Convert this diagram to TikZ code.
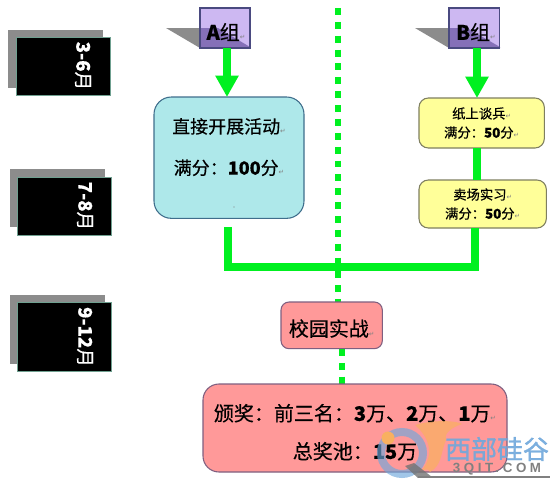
\documentclass[tikz,border=0pt]{standalone}
\usepackage{fontspec}
\setmainfont{Liberation Sans}
\newfontfamily\cjk[FakeBold=0.35]{Noto Sans CJK SC}
\newfontfamily\cjkb[FakeBold=1.2]{Noto Sans CJK SC}
\newfontfamily\sym{DejaVu Sans}
\usetikzlibrary{arrows.meta}
\definecolor{grn}{HTML}{00F020}
\definecolor{purp}{HTML}{CDB8F2}
\definecolor{purpd}{HTML}{8570B8}
\definecolor{purpb}{HTML}{4A4A80}
\definecolor{cyanf}{HTML}{AEE8EA}
\definecolor{cyanb}{HTML}{3F6E8C}
\definecolor{yelf}{HTML}{FFFF99}
\definecolor{yelb}{HTML}{7F7F60}
\definecolor{redf}{HTML}{FF9999}
\definecolor{redb}{HTML}{7F5F80}
\definecolor{shad}{HTML}{8C8C8C}
\definecolor{wmblue}{HTML}{6FA8DC}
\definecolor{wmorange}{HTML}{F8B060}
\definecolor{mborder}{HTML}{6FA090}
\newcommand{\ret}{{\sym\fontsize{5}{5}\selectfont\textcolor{gray}{↵}}}
\newcommand{\bb}[1]{{\bfseries #1}}
\tikzset{
  x=0.75pt,y=-0.75pt,
  every node/.style={inner sep=0pt,outer sep=0pt,align=center,font=\cjk},
  month/.style={fill=black,draw=mborder,line width=0.5pt,text=white,anchor=north west},
  monthtext/.style={text=white,rotate=-90,font=\cjk\fontsize{14}{14}\selectfont},
  shadowbox/.style={fill=shad},
  groupbox/.style={draw=purpb,line width=0.8pt,anchor=north west},
  greenarrow/.style={draw=grn,line width=6pt,-{Triangle[length=16pt,width=16.5pt]}},
  greenline/.style={draw=grn,line width=6pt},
  greendots/.style={draw=grn,line width=5.2pt,dash pattern=on 5.2pt off 5.2pt},
}
\begin{document}
\begin{tikzpicture}
\useasboundingbox[fill=white] (0,0) rectangle (553,483);
% month blocks
\fill[shadowbox] (8,30) rectangle (103,88);
\fill[shadowbox] (10,169) rectangle (105,227);
\fill[shadowbox] (10,295) rectangle (105,364);
\node[month,minimum width=70.5pt,minimum height=43.5pt] (m1) at (16,37) {};
\node[month,minimum width=71pt,minimum height=43.5pt] (m2) at (17,177) {};
\node[month,minimum width=71pt,minimum height=52pt] (m3) at (17,302) {};
\node[monthtext] (t1) at (83,66) {\bb{3-6}月};
\node[monthtext] (t2) at (85,206) {\bb{7-8}月};
\node[monthtext] (t3) at (85,337) {\bb{9-12}月};
% dotted centre line
\coordinate (dtop) at (338,8);
\coordinate (dbot) at (338,302);
\coordinate (dlow) at (342,349);
\coordinate (dend) at (342,384);
\draw[greendots] (dtop) -- (dbot);
\draw[greendots] (dlow) -- (dend);
% group boxes
\fill[shadowbox] (166,28) -- (250,28) -- (250,48) -- (200,48) -- cycle;
\fill[shadowbox] (415,28) -- (499,28) -- (499,48) -- (449,48) -- cycle;
\node[groupbox,fill=purp,minimum width=37.5pt,minimum height=30pt] (A) at (200,8) {};
\node[groupbox,fill=purp,minimum width=38pt,minimum height=30pt] (B) at (449,8) {};
\fill[purpd] (200,28) -- (218,28) -- (250,47) -- (250,48) -- (200,48) -- cycle;
\fill[purpd] (449,28) -- (467,28) -- (500,47) -- (500,48) -- (449,48) -- cycle;
\draw[purpb,line width=0.8pt] (A.north west) rectangle (A.south east);
\draw[purpb,line width=0.8pt] (B.north west) rectangle (B.south east);
\node[font=\cjk\fontsize{15}{15}\selectfont] (Al) at (226,32) {\bb{A}组\ret};
\node[font=\cjk\fontsize{15}{15}\selectfont] (Bl) at (476,32) {\bb{B}组\ret};
% content boxes
\node[draw=cyanb,fill=cyanf,line width=0.8pt,rounded corners=13pt,anchor=north west,minimum width=112.5pt,minimum height=91pt,font=\cjk\fontsize{13.5}{31}\selectfont] (act) at (154,97) {直接开展活动\ret\\ 满分：\bb{100}分\ret\\[-14pt]~};
\fill[gray] (234,207) circle (0.6);
\node[draw=yelb,fill=yelf,line width=0.8pt,rounded corners=7pt,anchor=north west,minimum width=94pt,minimum height=37.5pt,font=\cjk\fontsize{10}{14.3}\selectfont] (y1) at (419,98) {纸上谈兵\ret\\ 满分：\bb{50}分\ret};
\node[draw=yelb,fill=yelf,line width=0.8pt,rounded corners=7pt,anchor=north west,minimum width=95.5pt,minimum height=36pt,font=\cjk\fontsize{10}{14.3}\selectfont] (y2) at (419,180) {卖场实习\ret\\ 满分：\bb{50}分\ret};
\node[draw=redb,fill=redf,line width=0.8pt,rounded corners=6pt,anchor=north west,minimum width=76pt,minimum height=35pt,font=\cjk\fontsize{15}{15}\selectfont] (camp) at (281,302) {\rule{0pt}{17.5pt}校园实战\ret};
\node[draw=redb,fill=redf,line width=0.8pt,rounded corners=12pt,anchor=north west,minimum width=228pt,minimum height=66pt,font=\cjk\fontsize{15}{28.5}\selectfont] (prize) at (203,384) {\rule{0pt}{19pt}颁奖：前三名：\bb{3}万、\bb{2}万、\bb{1}万\ret\\ 总奖池：\bb{15}万};
% green connectors
\coordinate (ja) at (227,48);
\coordinate (jb) at (477,48);
\draw[greenarrow] (A.south -| ja) -- (act.north -| ja);
\draw[greenarrow] (B.south -| jb) -- (y1.north -| jb);
\coordinate (j1) at (477,148);
\draw[greenline] (y1.south -| j1) -- (y2.north -| j1);
\coordinate (jl) at (228,227);
\coordinate (jr) at (475,228);
\coordinate (jm) at (228,267);
\draw[greenline,line join=miter] (jl) -- (jm) -- (jm -| jr) -- (jr);
% watermark
\fill[wmorange,opacity=0.7] (415,425) .. controls (435,419) and (458,421) .. (462,424) .. controls (450,428) and (444,434) .. (446,440) .. controls (440,455) and (442,465) .. (430,472) .. controls (428,468) and (426,470) .. (422,470) .. controls (434,455) and (430,438) .. (415,425) -- cycle;
\draw[wmblue,line width=6pt,opacity=0.65] (402,453) circle (21);
\fill[wmorange] (388,438) circle (6.5);
\fill[black!55,opacity=0.8] (405,466) -- (414,463) -- (432,477) -- (418,478) -- cycle;
\draw[gray,line width=1pt] (418,477) -- (550,477);
\node[text=wmblue,opacity=0.9,font=\cjkb\fontsize{19.5}{19.5}\selectfont] (wm1) at (497,449) {西部硅谷};
\node[text=gray,font=\bfseries\addfontfeature{LetterSpace=27}\fontsize{10}{10}\selectfont] (wm2) at (497,469.5) {3QIT.COM};
\end{tikzpicture}
\end{document}
